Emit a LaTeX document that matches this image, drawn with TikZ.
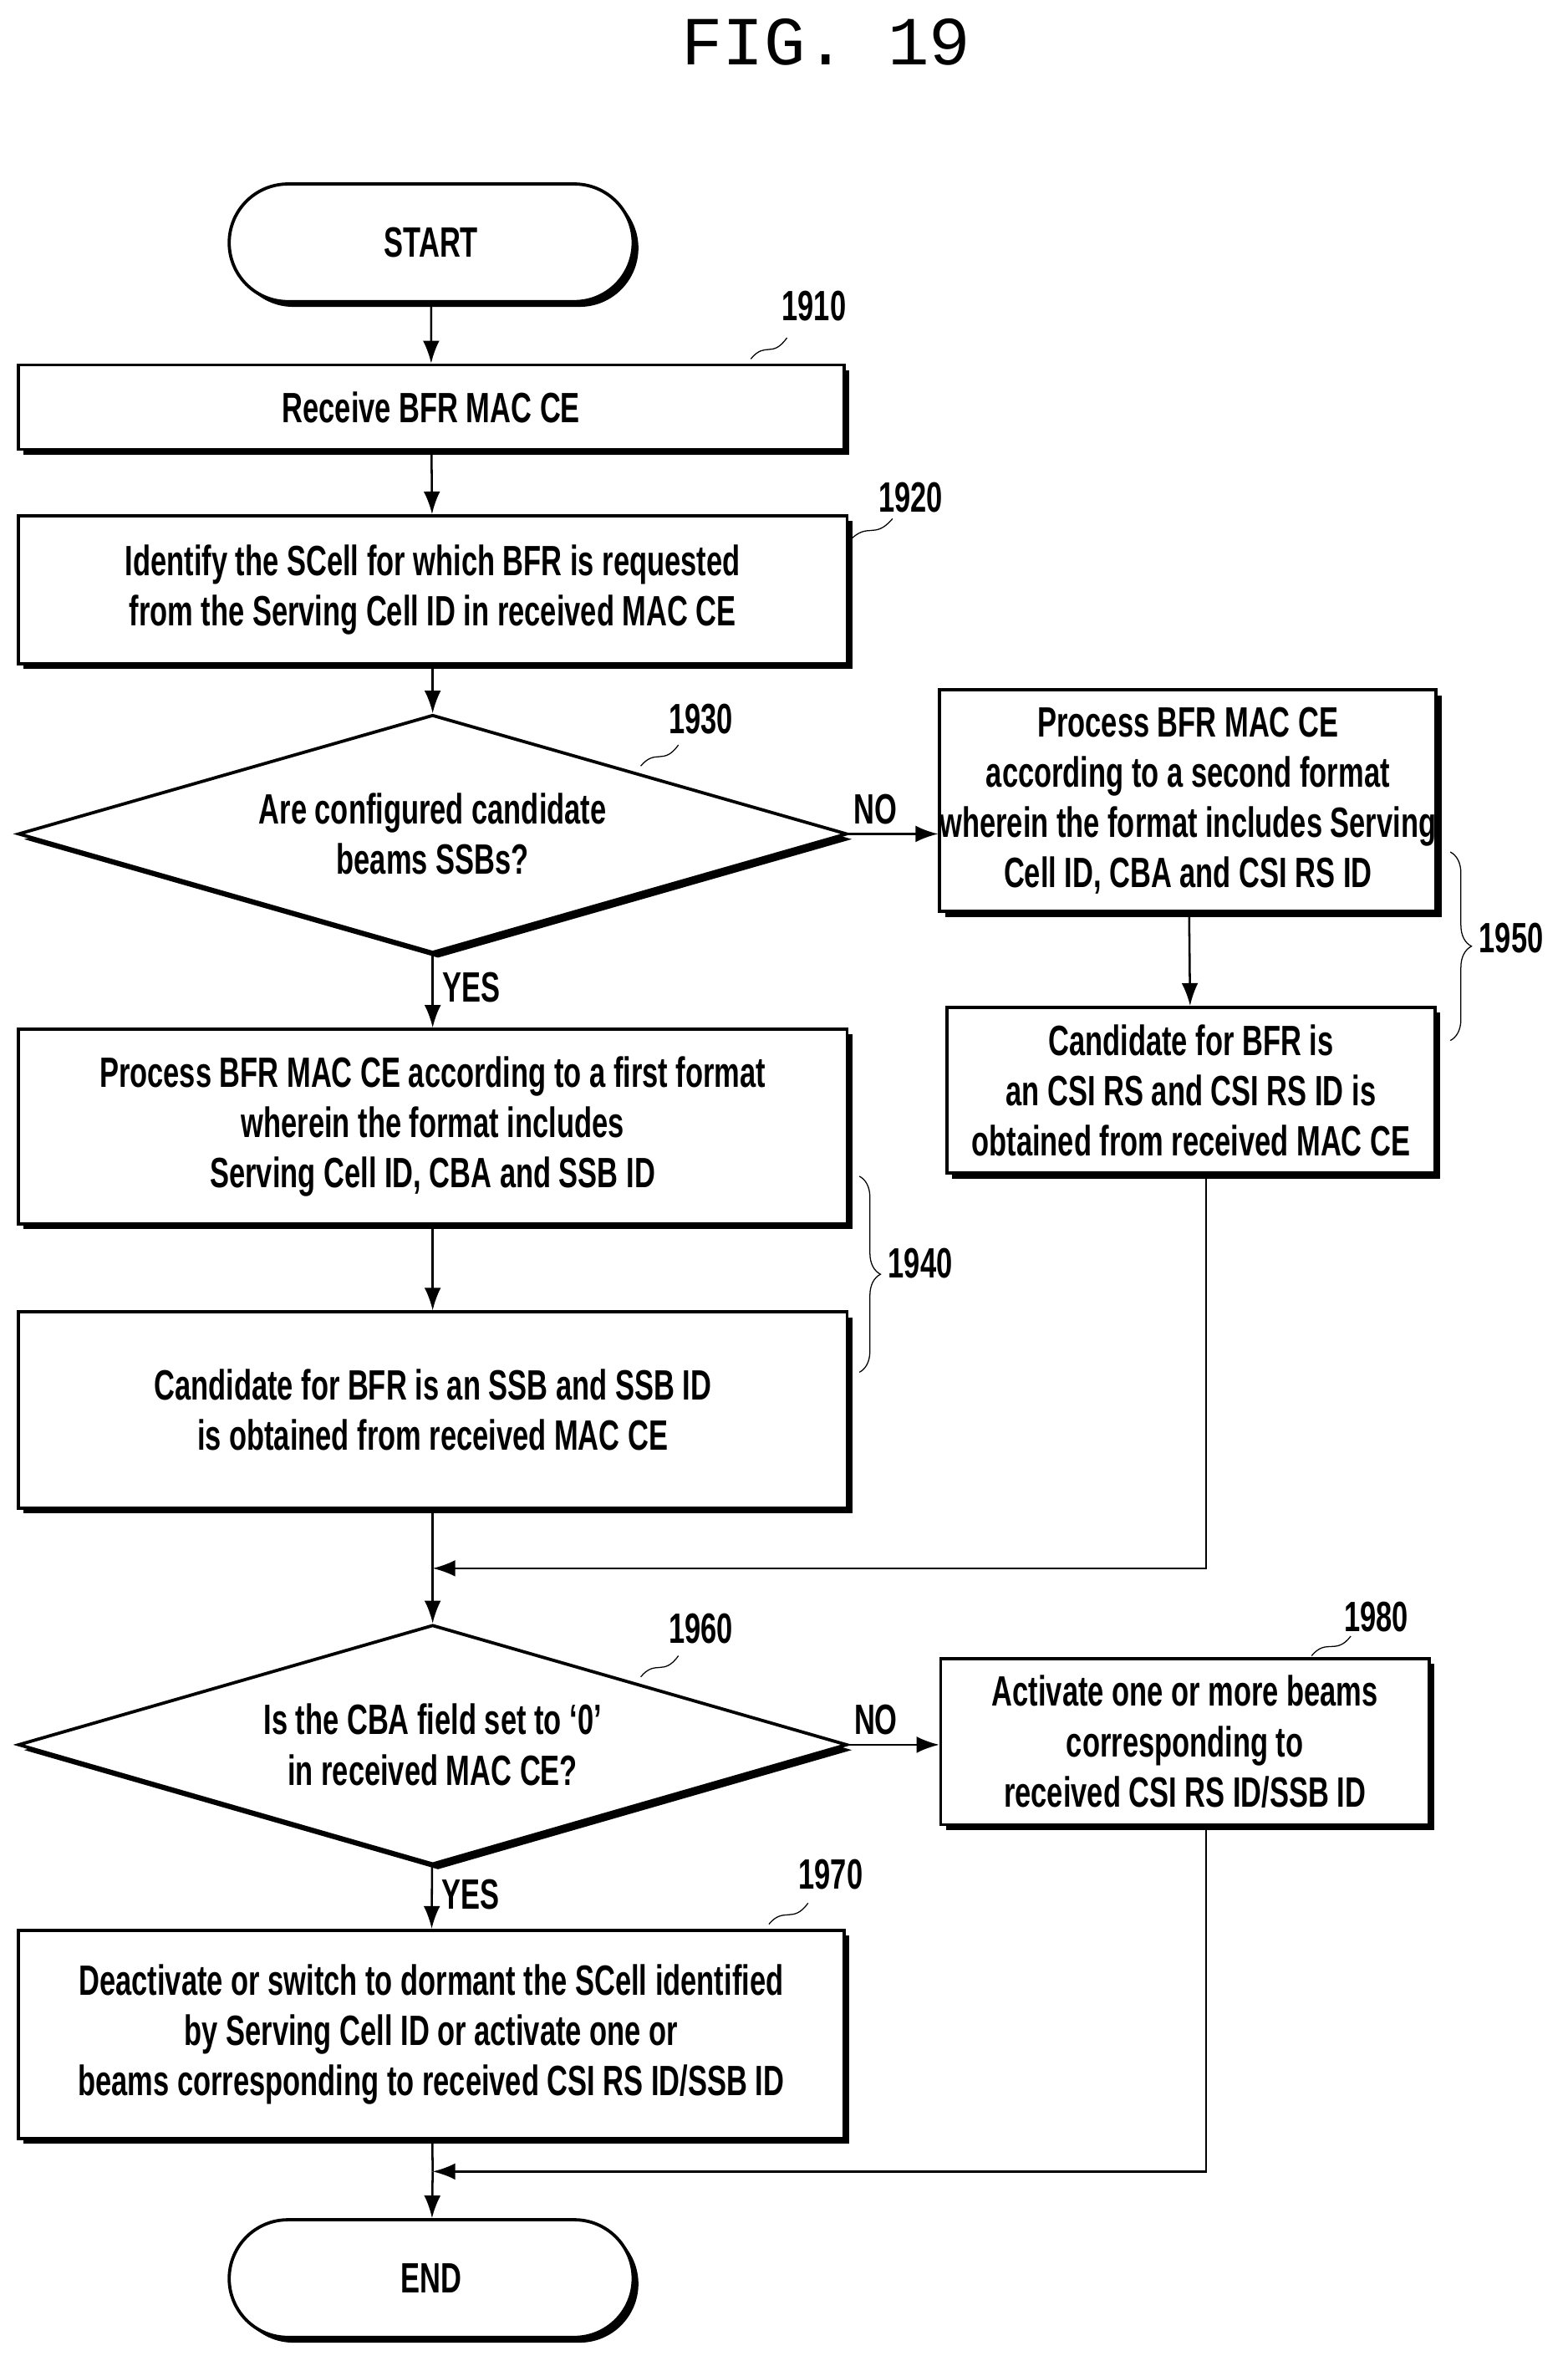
\documentclass[tikz,border=0pt]{standalone}
\usepackage{fontspec}
\setmainfont{Liberation Sans}[FakeStretch=0.68]
\setmonofont{Liberation Mono}
\usetikzlibrary{shapes.geometric,shapes.misc,shadows,arrows.meta,decorations.pathreplacing}

\tikzset{
  box/.style={draw, very thick, fill=white, align=center, inner sep=0pt,
    font=\fontsize{16}{19}\selectfont\bfseries,
    general shadow={fill=black, shadow xshift=0.07cm, shadow yshift=-0.07cm}},
  stadium/.style={box, rounded rectangle},
  decision/.style={box, diamond, aspect=3.48},
  flow/.style={thick, -{Latex[length=3mm,width=2.2mm]}},
  tag/.style={font=\fontsize{16}{19}\selectfont\bfseries},
  leader/.style={thin}
}

\begin{document}
\begin{tikzpicture}[x=0.02cm,y=-0.02cm]
  \useasboundingbox (0,0) rectangle (1040,1569);
  % title
  \node[font=\ttfamily\fontsize{26}{30}\selectfont] (title) at (548,28) {FIG. 19};

  % main column
  \node[stadium, minimum width=5.36cm, minimum height=1.56cm] (start) at (286,161) {START};
  \node[box, minimum width=10.96cm, minimum height=1.12cm] (s1910) at (286,270) {Receive BFR MAC CE};
  \node[box, minimum width=11cm, minimum height=1.96cm] (s1920) at (287,391)
    {Identify the SCell for which BFR is requested\\from the Serving Cell ID in received MAC CE};
  \node[decision, minimum width=11cm, minimum height=3.16cm] (d1930) at (287,553)
    {Are configured candidate\\beams SSBs?};
  \node[box, minimum width=11cm, minimum height=2.58cm] (s1940a) at (287,747)
    {Process BFR MAC CE according to a first format\\wherein the format includes\\Serving Cell ID, CBA and SSB ID};
  \node[box, minimum width=11cm, minimum height=2.6cm] (s1940b) at (287,935)
    {Candidate for BFR is an SSB and SSB ID\\is obtained from received MAC CE};
  \coordinate (join1) at (287,1040);
  \node[decision, minimum width=11cm, minimum height=3.18cm] (d1960) at (287,1157)
    {Is the CBA field set to `0'\\in received MAC CE?};
  \node[box, minimum width=10.96cm, minimum height=2.76cm] (s1970) at (286,1349)
    {Deactivate or switch to dormant the SCell identified\\by Serving Cell ID or activate one or\\beams corresponding to received CSI RS ID/SSB ID};
  \coordinate (join2) at (287,1440);
  \node[stadium, minimum width=5.36cm, minimum height=1.56cm] (end) at (286,1511) {END};

  % right column
  \node[box, minimum width=6.48cm, minimum height=2.94cm] (s1950a) at (788,531)
    {Process BFR MAC CE\\according to a second format\\wherein the format includes Serving\\Cell ID, CBA and CSI RS ID};
  \node[box, minimum width=6.48cm, minimum height=2.2cm] (s1950b) at (790,723)
    {Candidate for BFR is\\an CSI RS and CSI RS ID is\\obtained from received MAC CE};
  \node[box, minimum width=6.48cm, minimum height=2.2cm] (s1980) at (786,1155)
    {Activate one or more beams\\corresponding to\\received CSI RS ID/SSB ID};

  % connectors
  \draw[flow] (start) -- (s1910);
  \draw[flow] (s1910) -- (s1920);
  \draw[flow] (s1920) -- (d1930);
  \draw[flow] (d1930) -- (s1940a) node[tag, pos=0.45, right] {YES};
  \draw[flow] (d1930.east) -- (s1950a.west |- d1930.east) node[tag, pos=0.3, above] {NO};
  \draw[flow] (s1940a) -- (s1940b);
  \draw[flow] (s1950a) -- (s1950b);
  \draw[thick] (s1940b) -- (join1);
  \draw[flow] (s1950b.south -| 800,0) |- (join1);
  \draw[flow] (join1) -- (d1960);
  \draw[flow] (d1960) -- (s1970) node[tag, pos=0.45, right] {YES};
  \draw[flow] (d1960.east) -- (s1980.west |- d1960.east) node[tag, pos=0.3, above] {NO};
  \draw[thick] (s1970) -- (join2);
  \draw[flow] (s1980.south -| 800,0) |- (join2);
  \draw[flow] (join2) -- (end);

  % reference numerals
  \node[tag] (n1910) at (540,203) {1910};
  \draw[leader] (498,238) .. controls (508,226) and (512,238) .. (522,224);
  \node[tag] (n1920) at (604,330) {1920};
  \draw[leader] (564,358) .. controls (576,346) and (580,358) .. (592,344);
  \node[tag] (n1930) at (465,477) {1930};
  \draw[leader] (425,508) .. controls (435,496) and (440,508) .. (450,494);
  \node[tag] (n1960) at (465,1080) {1960};
  \draw[leader] (425,1112) .. controls (435,1100) and (440,1112) .. (450,1098);
  \node[tag] (n1980) at (913,1072) {1980};
  \draw[leader] (870,1098) .. controls (880,1086) and (886,1098) .. (896,1085);
  \node[tag] (n1970) at (551,1243) {1970};
  \draw[leader] (510,1276) .. controls (520,1264) and (526,1276) .. (536,1262);
  \draw[leader, decorate, decoration={brace, amplitude=8pt}] (962,565) -- (962,690);
  \node[tag, anchor=west] (n1950) at (975,622) {1950};
  \draw[leader, decorate, decoration={brace, amplitude=8pt}] (570,780) -- (570,910);
  \node[tag, anchor=west] (n1940) at (583,838) {1940};
\end{tikzpicture}
\end{document}
